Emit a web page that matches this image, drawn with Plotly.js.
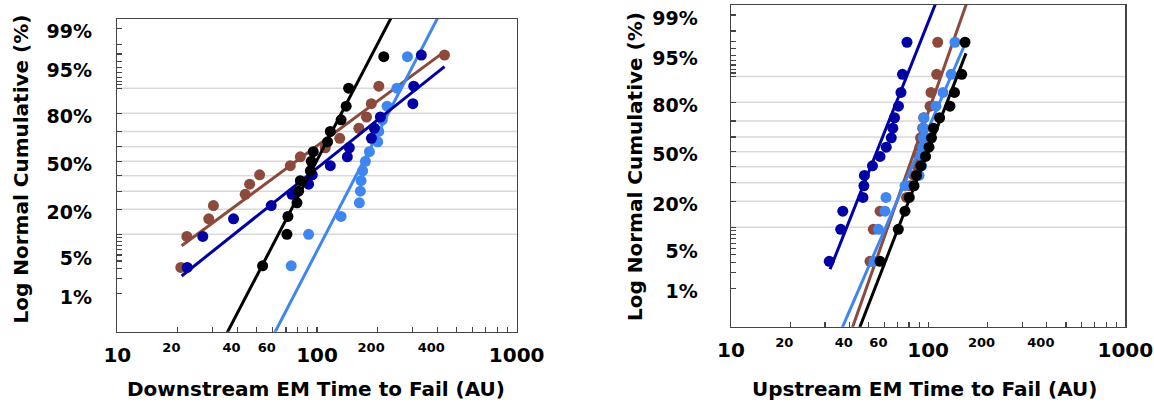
<!DOCTYPE html>
<html><head><meta charset="utf-8">
<script src="https://cdn.plot.ly/plotly-3.0.1.min.js"></script>
<style>html,body{margin:0;padding:0;background:#fff}</style>
</head><body><div id="chart" style="width:1154px;height:402px"></div>
<script>
// ---------- DATA (times in AU, cumulative failure in %) ----------
// Downstream (left panel)
const downBlackTime = [53.4, 70.7, 71.5, 79.4, 80.9, 82.5, 92.6, 93.6, 95.8, 113, 116.6, 132, 140, 144, 216];
const downBlackPct  = [3.33, 10, 16.67, 23.33, 30, 36.67, 43.33, 50, 56.67, 63.33, 70, 76.67, 83.33, 90, 96.67];
const downBrownTime = [20.8, 22.3, 28.7, 30.3, 43.7, 46.0, 51.6, 73.5, 82.5, 110, 130, 162, 177, 187, 204, 435];
const downBrownPct  = [3.13, 9.38, 15.63, 21.88, 28.13, 34.38, 40.63, 46.88, 53.13, 59.38, 65.63, 71.88, 78.13, 84.38, 90.63, 96.88];
const downNavyTime  = [22.4, 26.8, 38.2, 59.0, 74.9, 90.8, 94.7, 116.6, 141.9, 145.2, 187.3, 193.8, 207.7, 302, 305, 333];
const downNavyPct   = [3.13, 9.38, 15.63, 21.88, 28.13, 34.38, 40.63, 46.88, 53.13, 59.38, 65.63, 71.88, 78.13, 84.38, 90.63, 96.88];
const downSkyTime   = [74.3, 90.8, 132, 163, 164.9, 166.2, 169.3, 174.7, 183, 201.4, 203.7, 212.5, 224.4, 251.3, 283.8];
const downSkyPct    = [3.33, 10, 16.67, 23.33, 30, 36.67, 43.33, 50, 56.67, 63.33, 70, 76.67, 83.33, 90, 96.67];
// Downstream fit lines
const downBlackFitTime = [34.5, 286];  const downBlackFitPct = [0.1, 99.9];
const downBrownFitTime = [21.0, 435];  const downBrownFitPct = [6.93, 97.28];
const downNavyFitTime  = [21.0, 435];  const downNavyFitPct  = [2.21, 95.15];
const downSkyFitTime   = [59.7, 489];  const downSkyFitPct   = [0.1, 99.9];

// Upstream (right panel)
const upBlackTime = [57.0, 70.6, 76.3, 80.2, 84.8, 87.3, 91.8, 97.0, 101, 104, 106.4, 114.3, 129, 136, 148, 153.8];
const upBlackPct  = [3.13, 9.38, 15.63, 21.88, 28.13, 34.38, 40.63, 46.88, 53.13, 59.38, 65.63, 71.88, 78.13, 84.38, 90.63, 96.88];
const upBrownTime = [50.7, 52.7, 57.0, 77.7, 80.9, 84.8, 87.8, 89.9, 90.9, 91.5, 93.8, 94.9, 102.2, 103.4, 110.5, 111.8];
const upBrownPct  = [3.13, 9.38, 15.63, 21.88, 28.13, 34.38, 40.63, 46.88, 53.13, 59.38, 65.63, 71.88, 78.13, 84.38, 90.63, 96.88];
const upNavyTime  = [31.5, 36.0, 36.9, 46.7, 47.2, 47.5, 52.2, 57.0, 61.3, 65.0, 66.2, 67.5, 70.7, 72.8, 74.1, 78.1];
const upNavyPct   = [3.13, 9.38, 15.63, 21.88, 28.13, 34.38, 40.63, 46.88, 53.13, 59.38, 65.63, 71.88, 78.13, 84.38, 90.63, 96.88];
const upSkyTime   = [53.1, 55.9, 60.4, 61.1, 76.3, 89.9, 92.7, 93.4, 93.9, 94.4, 94.8, 95.3, 109.6, 118.9, 131, 136.8];
const upSkyPct    = [3.13, 9.38, 15.63, 21.88, 28.13, 34.38, 40.63, 46.88, 53.13, 59.38, 65.63, 71.88, 78.13, 84.38, 90.63, 96.88];
// Upstream fit lines
const upBlackFitTime = [43.75, 155.6]; const upBlackFitPct = [0.1, 95.3];
const upBrownFitTime = [40.3, 179.6];  const upBrownFitPct = [0.1, 99.9];
const upNavyFitTime  = [31.8, 127.4];  const upNavyFitPct  = [2.29, 99.9];
const upSkyFitTime   = [35.6, 156.9];  const upSkyFitPct   = [0.1, 97.14];

// Axis ticks
const yTickPct  = [1,2,3,4,5,6,7,8,9,10,20,30,40,50,60,70,80,90,91,92,93,94,95,96,97,98,99];
const yLabelPct = [1,5,20,50,80,95,99];
const gridPct   = [10,20,30,40,50,60,70,80,90];
const xTickVals = [10,20,30,40,50,60,70,80,90,100,200,300,400,500,600,700,800,900,1000];
const xBigLabels   = [10,100,1000];
const xSmallLabels = [20,40,60,200,400];
const downTitle = 'Downstream EM Time to Fail (AU)';
const upTitle   = 'Upstream EM Time to Fail (AU)';
const yTitle    = 'Log Normal Cumulative (%)';

// ---------- probability (normal quantile) transform ----------
function probit(p){
  const a=[-3.969683028665376e+01,2.209460984245205e+02,-2.759285104469687e+02,1.383577518672690e+02,-3.066479806614716e+01,2.506628277459239e+00];
  const b=[-5.447609879822406e+01,1.615858368580409e+02,-1.556989798598866e+02,6.680131188771972e+01,-1.328068155288572e+01];
  const c=[-7.784894002430293e-03,-3.223964580411365e-01,-2.400758277161838e+00,-2.549732539343734e+00,4.374664141464968e+00,2.938163982698783e+00];
  const d=[7.784695709041462e-03,3.224671290700398e-01,2.445134137142996e+00,3.754408661907416e+00];
  const pl=0.02425, ph=1-pl; let q,r;
  if(p<pl){q=Math.sqrt(-2*Math.log(p));return (((((c[0]*q+c[1])*q+c[2])*q+c[3])*q+c[4])*q+c[5])/((((d[0]*q+d[1])*q+d[2])*q+d[3])*q+1);}
  if(p>ph){q=Math.sqrt(-2*Math.log(1-p));return -(((((c[0]*q+c[1])*q+c[2])*q+c[3])*q+c[4])*q+c[5])/((((d[0]*q+d[1])*q+d[2])*q+d[3])*q+1);}
  q=p-0.5;r=q*q;return (((((a[0]*r+a[1])*r+a[2])*r+a[3])*r+a[4])*r+a[5])*q/(((((b[0]*r+b[1])*r+b[2])*r+b[3])*r+b[4])*r+1);
}
const Z = arr => arr.map(v => probit(v/100));

const COL = {black:'#000000', brown:'rgb(139,74,60)', navy:'rgb(0,0,165)', sky:'rgb(64,134,240)'};
const FONT = 'DejaVu Sans, Verdana, Arial, sans-serif';

function pts(x, y, col, xa, ya){ return {type:'scatter', mode:'markers', x:x, y:Z(y), xaxis:xa, yaxis:ya,
  marker:{color:col, size:11}, hoverinfo:'skip', showlegend:false}; }
function fit(x, y, col, xa, ya){ return {type:'scatter', mode:'lines', x:x, y:Z(y), xaxis:xa, yaxis:ya,
  line:{color:col, width:3}, hoverinfo:'skip', showlegend:false}; }
// empty carrier traces so the small-label overlay axes get drawn
function carrier(xa, ya){ return {type:'scatter', mode:'markers', x:[], y:[], xaxis:xa, yaxis:ya, hoverinfo:'skip', showlegend:false}; }

const traces = [
  pts(downBrownTime, downBrownPct, COL.brown, 'x', 'y'), fit(downBrownFitTime, downBrownFitPct, COL.brown, 'x', 'y'),
  pts(downSkyTime, downSkyPct, COL.sky, 'x', 'y'),       fit(downSkyFitTime, downSkyFitPct, COL.sky, 'x', 'y'),
  pts(downNavyTime, downNavyPct, COL.navy, 'x', 'y'),    fit(downNavyFitTime, downNavyFitPct, COL.navy, 'x', 'y'),
  pts(downBlackTime, downBlackPct, COL.black, 'x', 'y'), fit(downBlackFitTime, downBlackFitPct, COL.black, 'x', 'y'),
  pts(upBrownTime, upBrownPct, COL.brown, 'x2', 'y2'),   fit(upBrownFitTime, upBrownFitPct, COL.brown, 'x2', 'y2'),
  pts(upSkyTime, upSkyPct, COL.sky, 'x2', 'y2'),         fit(upSkyFitTime, upSkyFitPct, COL.sky, 'x2', 'y2'),
  pts(upNavyTime, upNavyPct, COL.navy, 'x2', 'y2'),      fit(upNavyFitTime, upNavyFitPct, COL.navy, 'x2', 'y2'),
  pts(upBlackTime, upBlackPct, COL.black, 'x2', 'y2'),   fit(upBlackFitTime, upBlackFitPct, COL.black, 'x2', 'y2'),
  carrier('x3', 'y'), carrier('x4', 'y2')
];

const W = 1154, H = 402;
const leftDom  = {x:[117.3/W, 516.7/W], y:[1-331.7/H, 1-19/H], yr:[-2.99, 2.496]};
const rightDom = {x:[731/W, 1125.3/W],  y:[1-326.7/H, 1-5/H],  yr:[-2.974, 2.497]};

function xMain(dom, anchor){ return {type:'log', range:[1,3], domain:dom, anchor:anchor,
  showline:true, mirror:true, linecolor:'#444', linewidth:1.5, showgrid:false, zeroline:false,
  ticks:'inside', ticklen:5, tickwidth:1.2, tickcolor:'#444',
  tickmode:'array', tickvals:xTickVals, ticktext:xTickVals.map(v => xBigLabels.includes(v) ? String(v) : ''),
  tickfont:{family:FONT, size:20, color:'#000', weight:'bold'}, ticklabelstandoff:5, fixedrange:true}; }
function xSmall(dom, anchor, over){ return {type:'log', range:[1,3], domain:dom, anchor:anchor, overlaying:over,
  showline:false, showgrid:false, zeroline:false, ticks:'', tickmode:'array', tickvals:xSmallLabels,
  ticktext:xSmallLabels.map(String), tickfont:{family:FONT, size:13, color:'#000', weight:'bold'},
  ticklabelstandoff:6, ticklabelshift:-6, fixedrange:true}; }
function yMain(d, anchor, standoff){ return {range:d.yr, domain:d.y, anchor:anchor,
  showline:true, mirror:true, linecolor:'#444', linewidth:1.5, showgrid:false, zeroline:false,
  ticks:'inside', ticklen:5, tickwidth:1.2, tickcolor:'#444',
  tickmode:'array', tickvals:Z(yTickPct), ticktext:yTickPct.map(v => yLabelPct.includes(v) ? v + '%' : ''),
  tickfont:{family:FONT, size:19, color:'#000', weight:'bold'}, ticklabelstandoff:standoff, ticklabelshift:3, fixedrange:true}; }

const shapes = [];
[['x','y'],['x2','y2']].forEach(([xa,ya]) => {
  Z(gridPct).forEach(z => shapes.push({type:'line', xref:xa+' domain', yref:ya, x0:0, x1:1, y0:z, y1:z,
    line:{color:'#d9d9d9', width:1.5}, layer:'below'}));
});

const titleFont = {family:FONT, size:20, color:'#000', weight:'bold'};
const annotations = [
  {text:yTitle, xref:'paper', yref:'paper', x:20.5/W, y:1-169/H, textangle:-90, showarrow:false, font:titleFont, xanchor:'center', yanchor:'middle'},
  {text:yTitle, xref:'paper', yref:'paper', x:634.5/W, y:1-166.5/H, textangle:-90, showarrow:false, font:titleFont, xanchor:'center', yanchor:'middle'},
  {text:downTitle, xref:'paper', yref:'paper', x:316/W, y:1-389/H, showarrow:false, font:titleFont, xanchor:'center', yanchor:'middle'},
  {text:upTitle, xref:'paper', yref:'paper', x:924/W, y:1-389/H, showarrow:false, font:titleFont, xanchor:'center', yanchor:'middle'}
];

const layout = {
  width:W, height:H, margin:{l:0, r:0, t:0, b:0}, paper_bgcolor:'#fff', plot_bgcolor:'rgba(0,0,0,0)',
  showlegend:false,
  xaxis: xMain(leftDom.x, 'y'),
  yaxis: yMain(leftDom, 'x', 20),
  xaxis2: xMain(rightDom.x, 'y2'),
  yaxis2: yMain(rightDom, 'x2', 28),
  xaxis3: xSmall(leftDom.x, 'y', 'x'),
  xaxis4: xSmall(rightDom.x, 'y2', 'x2'),
  shapes: shapes, annotations: annotations
};
Plotly.newPlot('chart', traces, layout, {displayModeBar:false, staticPlot:true});
</script></body></html>
